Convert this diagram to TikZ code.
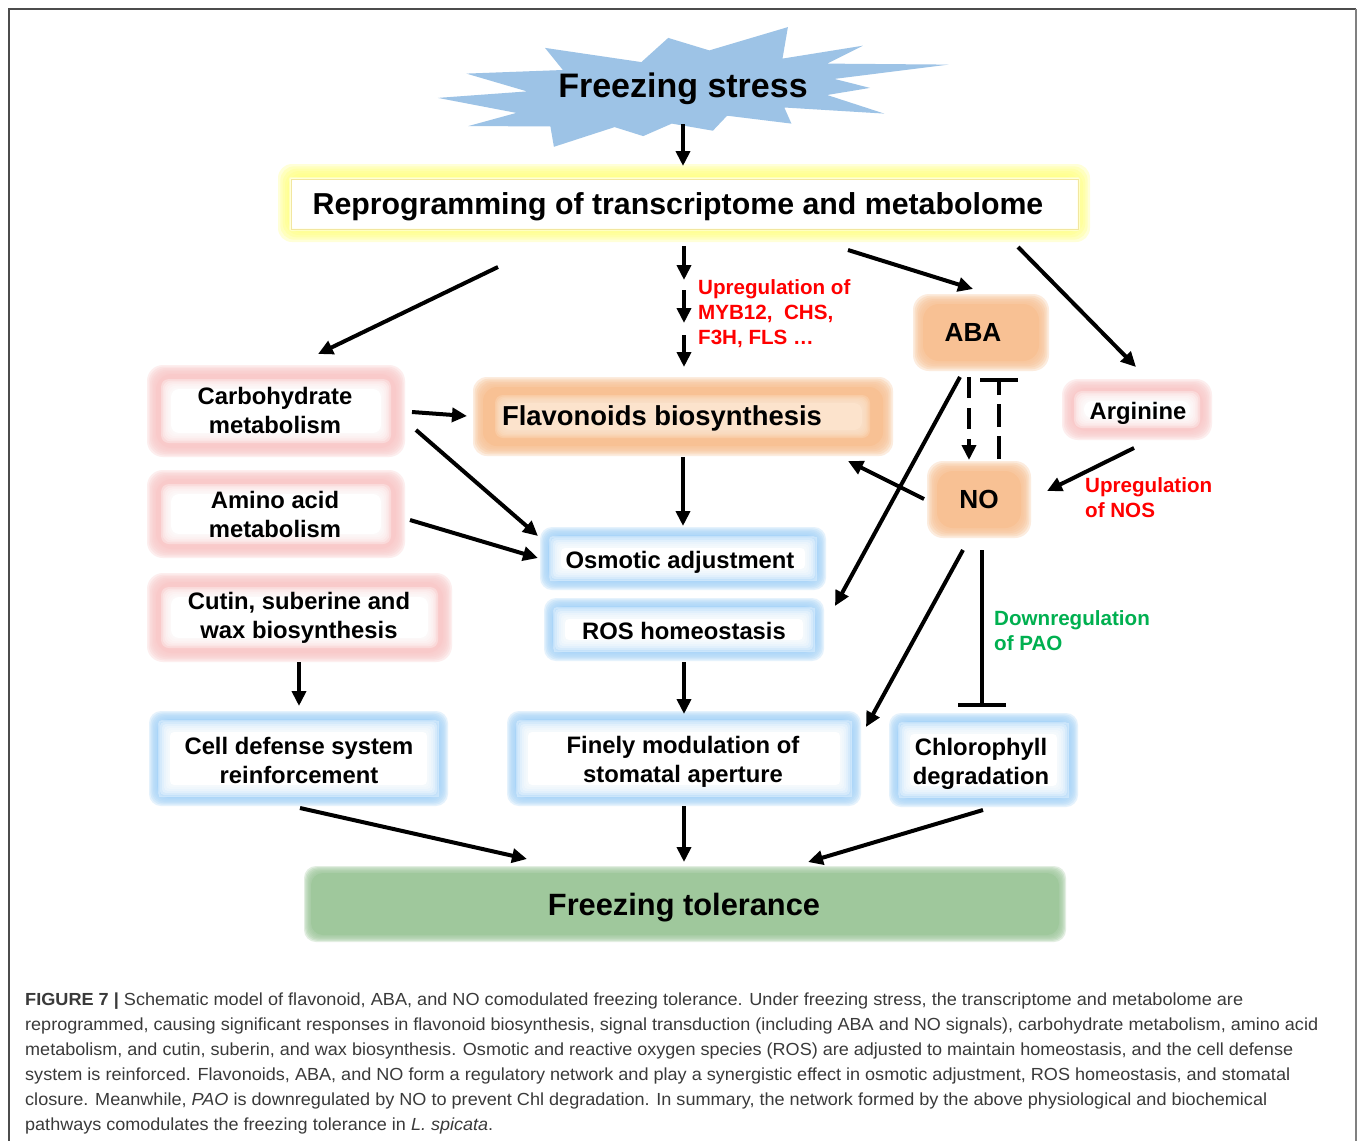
\documentclass[tikz,border=0pt]{standalone}
\usepackage{fontspec}
\usepackage{graphicx}
\setmainfont{Liberation Sans}
\usetikzlibrary{arrows.meta,calc}
\definecolor{starblue}{HTML}{9DC3E6}
\definecolor{yellowg}{HTML}{FFFF80}
\definecolor{yellowline}{HTML}{F2E6A0}
\definecolor{pinkc}{HTML}{F9CACA}
\definecolor{orangec}{HTML}{F8C194}
\definecolor{orangeL}{HTML}{FCE3CC}
\definecolor{bluec}{HTML}{AAD5F8}
\definecolor{greenc}{HTML}{9FC89C}
\definecolor{redlab}{HTML}{FF0000}
\definecolor{greenlab}{HTML}{00B050}
\definecolor{capgray}{HTML}{3A3A3A}
\newcommand{\softfill}[7]{%
  \foreach \k in {0,...,5}{%
    \pgfmathsetmacro{\dd}{\k*(#7)/6}%
    \fill[#5, opacity=0.3, rounded corners=#6] ({#1+\dd},{#2+\dd}) rectangle ({#3-\dd},{#4-\dd});
  }%
  \fill[#5, rounded corners=#6] ({#1+#7},{#2+#7}) rectangle ({#3-#7},{#4-#7});
}
\newcommand{\pinkbox}[5]{%
  \softfill{#1}{#2}{#3}{#4}{pinkc}{16pt}{9}%
  \softfill{#1+#5}{#2+#5}{#3-#5}{#4-#5}{white}{8pt}{10}%
}
\newcommand{\bluebox}[4]{%
  \softfill{#1}{#2}{#3}{#4}{bluec}{12pt}{8}%
  \softfill{#1+9}{#2+9}{#3-9}{#4-9}{white}{4pt}{12}%
  \draw[bluec!60, line width=0.6pt] ({#1+10},{#2+10}) rectangle ({#3-10},{#4-10});
}
\tikzset{
  arr/.style={line width=4pt, -{Triangle[length=15pt,width=14pt]}},
  darr/.style={arr, dash pattern=on 21pt off 10pt},
  inh/.style={line width=4pt, -{Bar[width=38pt]}},
  dinh/.style={inh, dash pattern=on 23pt off 9pt},
  btxt/.style={font=\fontsize{23.8}{29}\selectfont\bfseries, align=center, inner sep=0pt},
  lab/.style={font=\fontsize{20.6}{25}\selectfont\bfseries, align=left, inner sep=0pt, anchor=west},
  capl/.style={anchor=base west, inner sep=0pt, text=capgray, font=\fontsize{17.5}{20}\selectfont},
}
\begin{document}
\begin{tikzpicture}[x=1pt,y=-1pt]
\useasboundingbox (0,0) rectangle (1358,1141);
\fill[white] (0,0) rectangle (1358,1141);
% frame
\draw[line width=1.5pt, black!70] (9,1141) -- (9,9) -- (1356,9);
\draw[line width=2.5pt, black!50] (1356,9) -- (1356,1141);

% star
\fill[starblue] (545,47.9) -- (641.4,62.1) -- (668.2,37.9) -- (709.3,50.4) -- (787.9,27.1)
  -- (782.5,58.6) -- (862.9,45.7) -- (827.1,63.6) -- (948.6,64.6) -- (834.3,78.9)
  -- (870,87.9) -- (827.1,95) -- (884.3,113.6) -- (784.3,107.5) -- (791.4,123.6)
  -- (727.1,115.7) -- (712.9,130.7) -- (671.8,123.6) -- (643.2,136.1) -- (614.6,127.1)
  -- (553.9,146.8) -- (550.4,126.4) -- (468.2,126.1) -- (516.4,112.9) -- (437.9,97.9)
  -- (527.1,91.4) -- (466.4,73.6) -- (562.9,70) -- cycle;

% boxes
\softfill{278}{164}{1090}{242}{yellowg}{14pt}{14}
\softfill{289}{177}{1080}{231}{white}{2pt}{3}
\draw[yellowline, line width=1pt] (291,179) rectangle (1078,229);

\pinkbox{147}{365}{405}{457}{14}
\pinkbox{147}{470}{405}{558}{14}
\pinkbox{147}{573}{452}{662}{14}
\pinkbox{1062}{379}{1212}{440}{12}

\softfill{473}{377}{893}{456}{orangec}{14pt}{10}
\softfill{495}{395}{870}{438}{orangeL}{8pt}{8}
\softfill{913}{294}{1049}{371}{orangec}{16pt}{10}
\softfill{927}{461}{1031}{538}{orangec}{16pt}{10}

\bluebox{540}{527}{826}{590}
\bluebox{544}{598}{824}{661}
\bluebox{149}{711}{448}{806}
\bluebox{507}{711}{861}{806}
\bluebox{889}{713}{1078}{807}

\softfill{304}{866}{1066}{942}{greenc}{12pt}{7}

% text nodes
\node[inner sep=0pt, font=\fontsize{34}{40}\selectfont\bfseries] (fs) at (683,89) {Freezing stress};
\node[inner sep=0pt, font=\fontsize{30.3}{36}\selectfont\bfseries] (reprog) at (678,207) {Reprogramming of transcriptome and metabolome};
\node[btxt] (carb) at (275,410) {Carbohydrate\\metabolism};
\node[btxt] (amino) at (275,514) {Amino acid\\metabolism};
\node[btxt] (cutin) at (299,618) {Cutin, suberine and\\wax biosynthesis};
\node[inner sep=0pt, font=\fontsize{27.4}{32}\selectfont\bfseries] (flav) at (662,418) {Flavonoids biosynthesis};
\node[inner sep=0pt, font=\fontsize{26.2}{32}\selectfont\bfseries] (aba) at (973,332) {ABA};
\node[inner sep=0pt, font=\fontsize{26.2}{32}\selectfont\bfseries] (no) at (979,499) {NO};
\node[btxt] (arg) at (1138,413) {Arginine};
\node[btxt] (osm) at (680,562) {Osmotic adjustment};
\node[btxt] (ros) at (684,631) {ROS homeostasis};
\node[btxt] (cell) at (299,760) {Cell defense system\\reinforcement};
\node[btxt] (fine) at (683,762) {Finely modulation of\\stomatal aperture};
\node[btxt] (chl) at (981,764) {Chlorophyll\\degradation};
\node[inner sep=0pt, font=\fontsize{30.8}{36}\selectfont\bfseries] (tol) at (684,908) {Freezing tolerance};

% labels
\node[lab, text=redlab] (lmyb) at (698,314) {Upregulation of\\MYB12,\ \ CHS,\\F3H, FLS …};
\node[lab, text=redlab] (lnos) at (1085,498) {Upregulation\\of NOS};
\node[lab, text=greenlab] (lpao) at (994,631) {Downregulation\\of PAO};

% helper coordinates for the split arrow
\coordinate (m1) at (684,280);
\coordinate (m2) at (684,290);
\coordinate (m3) at (684,323);
\coordinate (m4) at (684,335);

% connectors
\draw[arr] ($(fs.center)+(0,35)$) -- ($(reprog.center)+(5,-41)$);
\draw[arr] ($(reprog.center)+(-180,60)$) -- ($(carb.center)+(43,-56)$);
\draw[arr] ($(reprog.center)+(6,39)$) -- (m1);
\draw[arr] (m2) -- (m3);
\draw[arr] (m4) -- ($(flav.center)+(22,-51)$);
\draw[arr] ($(reprog.center)+(170,43)$) -- ($(aba.center)+(0,-43)$);
\draw[arr] ($(reprog.center)+(340,40)$) -- ($(arg.center)+(-2,-46)$);
\draw[arr] ($(carb.center)+(137,2)$) -- ($(flav.center)+(-195,-2)$);
\draw[arr] ($(carb.center)+(141,20)$) -- ($(osm.center)+(-142,-26)$);
\draw[arr] ($(amino.center)+(135,6)$) -- ($(osm.center)+(-142,-4)$);
\draw[arr] ($(flav.center)+(21,39)$) -- ($(osm.center)+(3,-36)$);
\draw[arr] ($(no.center)+(-55,0)$) -- ($(flav.center)+(186,43)$);
\draw[arr] ($(aba.center)+(-13,45)$) -- ($(ros.center)+(151,-25)$);
\draw[darr] ($(aba.center)+(-4,45)$) -- ($(no.center)+(-10,-39)$);
\draw[dinh] ($(no.center)+(20,-40)$) -- ($(aba.center)+(26,46)$);
\draw[arr] ($(arg.center)+(-4,35)$) -- ($(no.center)+(68,-8)$);
\draw[arr] ($(no.center)+(-16,51)$) -- ($(fine.center)+(183,-35)$);
\draw[line width=4pt, -{Bar[width=48pt]}] ($(no.center)+(3,51)$) -- ($(chl.center)+(1,-57)$);
\draw[arr] ($(cutin.center)+(0,44)$) -- ($(cell.center)+(0,-54)$);
\draw[arr] ($(ros.center)+(0,31)$) -- ($(fine.center)+(1,-48)$);
\draw[arr] ($(cell.center)+(1,48)$) -- ($(tol.center)+(-157,-49)$);
\draw[arr] ($(fine.center)+(1,44)$) -- ($(tol.center)+(0,-46)$);
\draw[arr] ($(chl.center)+(2,46)$) -- ($(tol.center)+(124,-46)$);

% caption
\node[capl] (cap1) at (25,1005) {\resizebox{1218pt}{\height}{\textbf{FIGURE 7 |} Schematic model of flavonoid, ABA, and NO comodulated freezing tolerance. Under freezing stress, the transcriptome and metabolome are}};
\node[capl] (cap2) at (25,1030) {\resizebox{1293pt}{\height}{reprogrammed, causing significant responses in flavonoid biosynthesis, signal transduction (including ABA and NO signals), carbohydrate metabolism, amino acid}};
\node[capl] (cap3) at (25,1055) {\resizebox{1268pt}{\height}{metabolism, and cutin, suberin, and wax biosynthesis. Osmotic and reactive oxygen species (ROS) are adjusted to maintain homeostasis, and the cell defense}};
\node[capl] (cap4) at (25,1080) {\resizebox{1265pt}{\height}{system is reinforced. Flavonoids, ABA, and NO form a regulatory network and play a synergistic effect in osmotic adjustment, ROS homeostasis, and stomatal}};
\node[capl] (cap5) at (25,1105) {\resizebox{1242pt}{\height}{closure. Meanwhile, \textit{PAO} is downregulated by NO to prevent Chl degradation. In summary, the network formed by the above physiological and biochemical}};
\node[capl] (cap6) at (25,1130) {\resizebox{468pt}{\height}{pathways comodulates the freezing tolerance in \textit{L. spicata}.}};
\end{tikzpicture}
\end{document}
